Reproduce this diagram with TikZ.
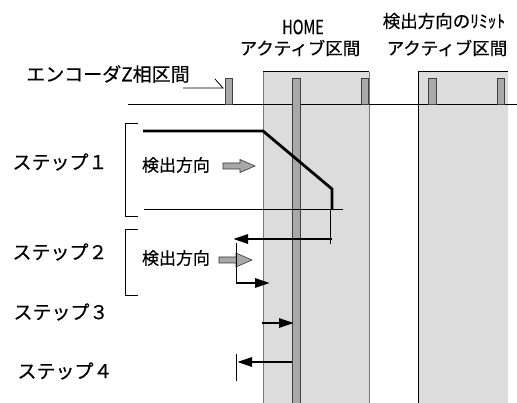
\documentclass[tikz,border=0pt]{standalone}
\usepackage{fontspec}
\newfontfamily\jp[FakeBold=0.4]{Noto Sans CJK JP}
\usetikzlibrary{arrows.meta}
\definecolor{zonegray}{HTML}{DCDCDC}
\definecolor{pulsegray}{HTML}{A8A8A8}
\definecolor{edgegray}{HTML}{787878}
\tikzset{
  lbl/.style={inner sep=0pt, font=\jp\fontsize{19}{21}\selectfont},
  hdr/.style={inner sep=0pt, font=\jp\fontsize{17.5}{20}\selectfont},
  dirtxt/.style={inner sep=0pt, font=\jp\fontsize{17}{19}\selectfont},
  thin/.style={line width=0.8pt},
  thick/.style={line width=2.8pt},
  arr/.style={line width=2.8pt, -{Triangle[length=15pt,width=9pt]}},
  pulse/.style={fill=pulsegray, draw=black!75, line width=0.7pt},
  blockarrow/.style={fill=pulsegray, draw=black!80, line width=0.6pt},
}
\begin{document}
\begin{tikzpicture}[x=1pt,y=-1pt]
\useasboundingbox (0,0) rectangle (517,403);
% active zones
\fill[zonegray] (263,72) rectangle (369,403);
\draw[edgegray, line width=1pt] (263,403) -- (263,72);
\draw[edgegray, line width=1pt] (369,72) -- (369,403);
\draw[black, line width=1pt] (263,72) -- (369,72);
\fill[zonegray] (418,72) rectangle (508,403);
\draw[black, line width=1pt] (418,403) -- (418,72) -- (508,72);
% baseline
\coordinate (bl0) at (128,104);
\coordinate (bl1) at (517,104);
\draw[thin] (bl0) -- (bl1);
% pulses
\draw[pulse] (225,78) rectangle (232,104);
\draw[pulse] (292,78) rectangle (300,404);
\draw[pulse] (361,78) rectangle (368,104);
\draw[pulse] (428,78) rectangle (436,104);
\draw[pulse] (497,78) rectangle (504,104);
% headers
\node[inner sep=0pt, font=\jp\fontsize{19.5}{21}\selectfont] (home) at (303,27) {\scalebox{0.74}[1]{HOME}};
\node[hdr] (act1) at (300,48) {アクティブ区間};
\node[hdr] (lim) at (444,21) {検出方向のﾘﾐｯﾄ};
\node[hdr] (act2) at (447,48) {アクティブ区間};
% encoder label
\node[lbl] (enc) at (108,74) {エンコーダZ相区間};
\coordinate (ld0) at (183,88);
\coordinate (ld1) at (223,88);
\coordinate (ld2) at (215,79);
\draw[thin] (ld0) -- (ld1) -- (ld2);
% step labels
\node[lbl] (s1) at (60,162) {ステップ１};
\node[lbl] (s2) at (60,252) {ステップ２};
\node[lbl] (s3) at (61,312) {ステップ３};
\node[lbl] (s4) at (65,371) {ステップ４};
% brackets
\draw[thin] (138,123) -- (125,123) -- (125,216) -- (138,216);
\draw[thin] (138,229) -- (125,229) -- (125,295) -- (138,295);
% step 1
\coordinate (p0) at (143,131);
\coordinate (p1) at (263,131);
\coordinate (p2) at (332,189);
\coordinate (p3) at (332,210);
\draw[thick, line join=miter] (p0) -- (p1) -- (p2) -- (p3);
\draw[thin] (144,209) -- (343,209);
\draw[thin] (330,210) -- (330,244);
\node[dirtxt] (d1) at (176,165) {検出方向};
\draw[blockarrow] (223,163) -- (240,163) -- (240,159.5) -- (255,166) -- (240,172.5) -- (240,169) -- (223,169) -- cycle;
% step 2
\coordinate (a2s) at (332,239);
\coordinate (a2e) at (233,239);
\draw[arr] (a2s) -- (a2e);
\node[dirtxt] (d2) at (176,258) {検出方向};
\draw[blockarrow] (219,257) -- (236,257) -- (236,253) -- (252,260) -- (236,267) -- (236,263) -- (219,263) -- cycle;
\draw[thin] (236,243) -- (236,283);
\coordinate (b2s) at (236,283);
\coordinate (b2e) at (270,283);
\draw[arr] (b2s) -- (b2e);
% step 3
\coordinate (a3s) at (262,323);
\coordinate (a3e) at (294,323);
\draw[arr] (a3s) -- (a3e);
% step 4
\coordinate (a4s) at (292,362);
\coordinate (a4e) at (237,362);
\draw[arr] (a4s) -- (a4e);
\draw[thin] (236,354) -- (236,381);
\end{tikzpicture}
\end{document}
